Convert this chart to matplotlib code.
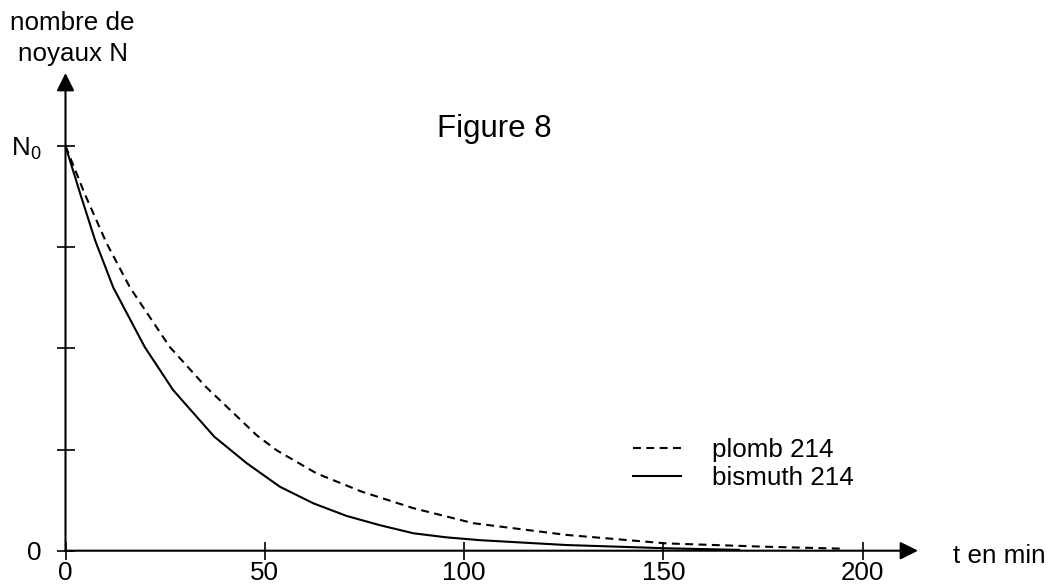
import matplotlib
matplotlib.use("Agg")
from matplotlib import pyplot as plt

plt.rcParams['font.family'] = ['Liberation Sans', 'DejaVu Sans']
plt.rcParams['mathtext.fontset'] = 'custom'
plt.rcParams['mathtext.rm'] = 'Liberation Sans'

# values (N / N0 against t in minutes)
t_plomb = [0, 4.9, 10.3, 16.2, 26.2, 35.2, 41.3, 48.0, 53.0, 63.0, 74.3,
           87.3, 102.3, 125.7, 150.8, 175, 195]
n_plomb = [1, 0.880, 0.760, 0.650, 0.503, 0.405, 0.348, 0.285, 0.248, 0.191,
           0.146, 0.105, 0.068, 0.039, 0.018, 0.010, 0.005]

t_bismuth = [0, 3.6, 7.5, 12.0, 19.9, 27.0, 37.3, 45.5, 53.8, 62.2, 70.5,
             78.9, 87.3, 95.6, 104, 125.7, 150.8, 169]
n_bismuth = [1, 0.885, 0.765, 0.650, 0.503, 0.397, 0.282, 0.216, 0.158,
             0.117, 0.086, 0.063, 0.043, 0.033, 0.026, 0.014, 0.006, 0.002]

x_ticks = [0, 50, 100, 150, 200]
y_ticks = [0, 0.25, 0.5, 0.75, 1]
y_labels = ['0', '', '', '', r'$\mathregular{N_0}$']

W, H = 1053, 587
fig = plt.figure(figsize=(W / 100, H / 100), dpi=100)
ax = fig.add_axes([65.5 / W, 36.3 / H, 852.5 / W, 477.7 / H])
ax.set_xlim(0, 213.9)
ax.set_ylim(0, 1.1804)

fs = 18.7
ax.plot(t_plomb, n_plomb, color='black', lw=1.5, dashes=(3.8, 2.6),
        label='plomb 214')
ax.plot(t_bismuth, n_bismuth, color='black', lw=1.5, label='bismuth 214')

# axes drawn as arrows instead of spines
for s in ax.spines.values():
    s.set_visible(False)
arrow = dict(arrowstyle='-|>', color='black', lw=1.5, mutation_scale=27,
             shrinkA=0, shrinkB=0)
ax.annotate('', xy=(1, 0), xytext=(0, 0), xycoords='axes fraction',
            arrowprops=arrow)
ax.annotate('', xy=(0, 1), xytext=(0, 0), xycoords='axes fraction',
            arrowprops=arrow)

ax.set_xticks(x_ticks)
ax.set_xticklabels([str(v) for v in x_ticks])
ax.set_yticks(y_ticks)
ax.set_yticklabels(y_labels)
ax.tick_params(axis='both', direction='inout', length=12.3, width=1.2,
               labelsize=fs, color='black')
ax.tick_params(axis='x', pad=1.5)
ax.tick_params(axis='y', pad=11)

fig.text(72.5 / W, 1 - 30 / H, 'nombre de', ha='center', va='baseline',
         fontsize=fs)
fig.text(72.5 / W, 1 - 61 / H, 'noyaux N', ha='center', va='baseline',
         fontsize=fs)
fig.text(953 / W, 1 - 563 / H, 't en min', ha='left', va='baseline',
         fontsize=fs)
fig.text(494.5 / W, 1 - 137 / H, 'Figure 8', ha='center', va='baseline',
         fontsize=22.5)

ax.legend(loc='upper left', bbox_to_anchor=(633 / W, 1 - 438 / H),
          bbox_transform=fig.transFigure, frameon=False, fontsize=fs,
          borderpad=0, borderaxespad=0, handlelength=1.85,
          handletextpad=1.18, labelspacing=0.15)

fig.savefig('out.png', dpi=100)
